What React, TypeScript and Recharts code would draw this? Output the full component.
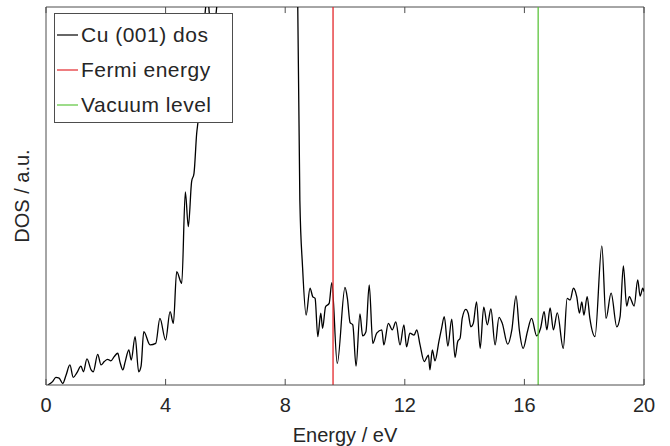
import { LineChart, Line, XAxis, YAxis, ReferenceLine, Legend, Label } from 'recharts';

const energy = [
  0.06, 0.22, 0.33, 0.44, 0.56, 0.67, 0.8, 0.91, 1.03, 1.17, 1.25, 1.37, 1.51, 1.58, 1.73, 1.84, 1.95, 2.06, 2.17,
  2.28, 2.4, 2.47, 2.57, 2.65, 2.77, 2.85, 2.98, 3.1, 3.18, 3.27, 3.48, 3.67, 3.81, 4.0, 4.15, 4.26, 4.37, 4.54,
  4.66, 4.76, 4.87, 4.95, 5.04, 5.09, 5.22, 5.34, 5.4, 5.46, 5.55, 5.65, 5.71, 5.85, 6.2, 6.8, 7.4, 7.9, 8.3,
  8.42, 8.49, 8.58, 8.7, 8.83, 8.92, 9.0, 9.09, 9.19, 9.25, 9.35, 9.47, 9.56, 9.74, 10.0, 10.08, 10.17, 10.26,
  10.37, 10.5, 10.59, 10.7, 10.81, 10.93, 11.06, 11.23, 11.3, 11.45, 11.58, 11.7, 11.84, 11.97, 12.06, 12.17,
  12.31, 12.4, 12.51, 12.65, 12.79, 12.84, 12.92, 13.01, 13.14, 13.23, 13.32, 13.44, 13.57, 13.68, 13.77, 13.85,
  13.92, 14.04, 14.12, 14.21, 14.29, 14.4, 14.52, 14.64, 14.76, 14.88, 15.02, 15.15, 15.26, 15.44, 15.58, 15.72,
  15.83, 15.96, 16.1, 16.24, 16.41, 16.54, 16.66, 16.75, 16.86, 16.97, 17.1, 17.3, 17.43, 17.53, 17.64, 17.75,
  17.84, 17.92, 17.99, 18.1, 18.19, 18.36, 18.59, 18.73, 18.9, 19.09, 19.2, 19.31, 19.42, 19.51, 19.67, 19.79,
  19.87, 19.96, 20.0,
];

const dos = [
  0.0, 0.09, 0.2, 0.18, 0.04, 0.26, 0.53, 0.2, 0.32, 0.5, 0.35, 0.69, 0.4, 0.35, 0.81, 0.53, 0.62, 0.68, 0.64,
  0.75, 0.84, 0.62, 0.4, 0.62, 0.93, 0.66, 1.28, 0.35, 0.5, 1.41, 1.06, 1.1, 1.76, 1.19, 1.94, 1.63, 3.0, 2.69,
  5.11, 4.19, 5.38, 5.6, 6.66, 7.01, 8.8, 10.0, 10.4, 9.85, 9.3, 9.6, 10.0, 12.0, 16.5, 19.0, 18.0, 15.0, 12.5,
  10.0, 4.89, 3.13, 1.85, 2.56, 2.34, 2.29, 1.28, 1.9, 1.5, 2.07, 2.16, 2.71, 0.57, 2.58, 2.29, 1.65, 1.59,
  0.5, 1.88, 1.3, 1.41, 2.65, 1.1, 1.37, 1.46, 1.06, 1.63, 1.46, 1.67, 1.06, 1.59, 1.01, 1.37,
  1.32, 1.46, 1.06, 0.62, 0.79, 0.4, 0.93, 0.64, 1.15, 1.5, 1.81, 1.03, 1.74, 0.73, 1.15, 1.24,
  1.76, 2.0, 1.9, 1.54, 1.63, 2.2, 0.97, 2.06, 1.59, 2.01, 1.06, 1.79, 1.63, 1.08, 1.46, 2.36,
  1.46, 0.97, 1.41, 1.76, 1.3, 1.5, 1.94, 1.46, 2.04, 1.46, 1.91, 0.97, 2.29, 2.25, 2.56, 2.34,
  1.9, 2.2, 1.85, 2.34, 1.76, 1.28, 3.68, 1.76, 2.43, 1.54, 1.81, 3.15, 2.09, 2.34, 2.09, 2.78,
  2.35, 2.56, 2.47,
];

const fermiEnergy = 9.6;
const vacuumLevel = 16.46;
const xTicks = [0, 4, 8, 12, 16, 20];
const yMax = 10;

const legendItems = [
  { label: 'Cu (001) dos', color: '#000000' },
  { label: 'Fermi energy', color: '#e3262a' },
  { label: 'Vacuum level', color: '#5cc43c' },
];

const data = energy.map((e, i) => ({ e, dos: dos[i] }));

const font = '"Liberation Sans", Arial, Helvetica, sans-serif';
const textColor = '#262626';
const axisColor = '#4d4d4d';

function LegendBox() {
  return (
    <div
      style={{
        border: `1px solid ${axisColor}`,
        background: '#fff',
        width: 177,
        height: 105,
        boxSizing: 'content-box',
        fontFamily: font,
        fontSize: 21,
        letterSpacing: 0.5,
        color: textColor,
        paddingTop: 3,
        lineHeight: 1,
      }}
    >
      {legendItems.map((it) => (
        <div key={it.label} style={{ display: 'flex', alignItems: 'center', height: 35 }}>
          <svg width={26} height={10} style={{ flex: 'none' }}>
            <line x1={2} y1={5} x2={23} y2={5} stroke={it.color} strokeWidth={1.2} />
          </svg>
          <span>{it.label}</span>
        </div>
      ))}
    </div>
  );
}

export default function App() {
  return (
    <div style={{ position: 'absolute', left: 0, top: 0, background: '#fff' }}>
      <LineChart width={670} height={446} data={data} margin={{ top: 7, right: 26, bottom: 0, left: 0 }}>
        <XAxis
          dataKey="e"
          type="number"
          domain={[0, 20]}
          ticks={xTicks}
          tickLine={false}
          height={61}
          stroke={axisColor}
          tick={{ fill: textColor, fontSize: 20, fontFamily: font }}
          tickMargin={7}
          allowDataOverflow
        >
          <Label
            value="Energy / eV"
            position="insideBottom"
            offset={4}
            style={{ fill: textColor, fontSize: 20, fontFamily: font }}
          />
        </XAxis>
        <YAxis
          type="number"
          domain={[0, yMax]}
          tick={false}
          tickLine={false}
          width={46}
          stroke={axisColor}
          allowDataOverflow
        >
          <Label
            content={({ viewBox }: any) => (
              <text
                x={22}
                y={viewBox.y + viewBox.height / 2}
                transform={`rotate(-90 22 ${viewBox.y + viewBox.height / 2})`}
                textAnchor="middle"
                dominantBaseline="central"
                style={{ fill: textColor, fontSize: 20, fontFamily: font }}
              >
                DOS / a.u.
              </text>
            )}
          />
        </YAxis>
        <ReferenceLine y={yMax} stroke={axisColor} ifOverflow="visible" />
        <ReferenceLine x={20} stroke={axisColor} ifOverflow="visible" />
        {xTicks.map((t) => (
          <ReferenceLine
            key={`b${t}`}
            segment={[{ x: t, y: 0 }, { x: t, y: 0.16 }]}
            stroke={axisColor}
            ifOverflow="visible"
          />
        ))}
        {xTicks.map((t) => (
          <ReferenceLine
            key={`t${t}`}
            segment={[{ x: t, y: yMax }, { x: t, y: yMax - 0.16 }]}
            stroke={axisColor}
            ifOverflow="visible"
          />
        ))}
        <Line
          dataKey="dos"
          type="monotone"
          stroke="#000000"
          strokeWidth={1.3}
          dot={false}
          isAnimationActive={false}
        />
        <ReferenceLine x={fermiEnergy} stroke={legendItems[1].color} strokeWidth={1.3} />
        <ReferenceLine x={vacuumLevel} stroke={legendItems[2].color} strokeWidth={1.3} />
        <Legend
          verticalAlign="middle"
          align="center"
          layout="horizontal"
          content={() => <LegendBox />}
          wrapperStyle={{ left: 54, top: 13, width: 'auto' }}
        />
      </LineChart>
    </div>
  );
}
